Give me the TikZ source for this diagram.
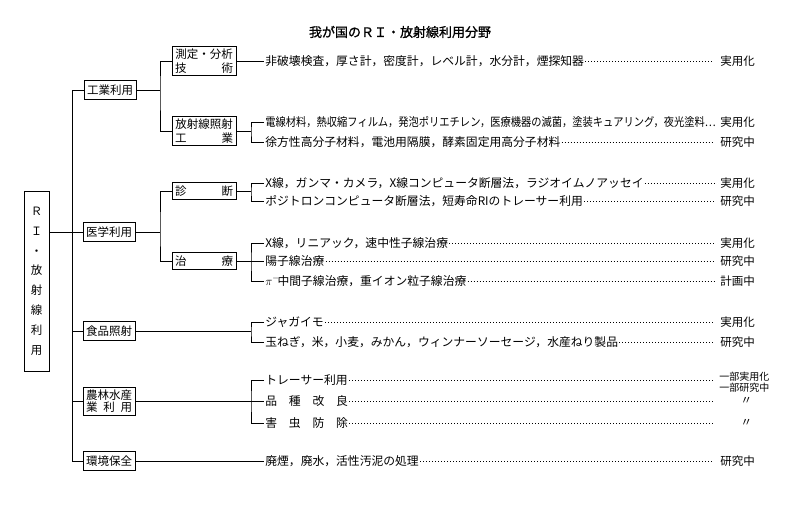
\documentclass[tikz,border=0pt]{standalone}
\usepackage{fontspec}
\setmainfont{Noto Sans CJK JP}
\newfontfamily\titlefont[FakeBold=1.2]{Noto Sans CJK JP}
\usepackage{graphicx}
\begin{document}
\begin{tikzpicture}[x=1pt,y=-1pt,line width=0.7pt,
    catbox/.style={draw,minimum width=52pt,minimum height=19pt,inner sep=1pt,align=center,font=\fontsize{11.5}{12}\selectfont},
    subbox/.style={draw,minimum width=64pt,minimum height=17pt,inner sep=2pt,align=center,font=\fontsize{11.5}{14}\selectfont},
    item/.style={anchor=west,inner sep=1pt,font=\fontsize{11.8}{13}\selectfont},
    stat/.style={anchor=west,inner sep=1pt,font=\fontsize{11.5}{13}\selectfont},
    ditto/.style={stat,minimum width=56pt},
    leader/.style={line width=1pt,dash pattern=on 1pt off 2pt,shorten >=5pt}]
    \useasboundingbox (0,0) rectangle (787,509);
    \node[font=\fontsize{13}{14}\selectfont] (title) at (400,32) {\titlefont 我が国のＲＩ・放射線利用分野};
    \node[draw,minimum width=25pt,minimum height=180pt,inner sep=0pt,align=center,
      font=\fontsize{11.5}{19.8}\selectfont] (ri) at (36.5,281) {Ｒ\\Ｉ\\・\\放\\射\\線\\利\\用};
    \node[catbox] (c1) at (110,90) {工業利用};
    \node[catbox] (c2) at (109,232) {医学利用};
    \node[catbox] (c3) at (109,331) {食品照射};
    \node[catbox,minimum height=28pt] (c4) at (109,401) {農林水産\\\makebox[46pt]{業\hfill 利\hfill 用}};
    \node[catbox] (c5) at (109,461) {環境保全};
    \coordinate (tk1) at (72,90);
    \coordinate (tk2) at (72,461);
    \draw (tk1) -- (tk2);
    \draw (tk1) -- (c1.west);
    \draw (ri.east |- c2.west) -- (c2.west);
    \foreach \c in {c3,c4,c5}
      \draw (\c.west -| tk1) -- (\c.west);
    \node[subbox] (s1) at (204,61) {\makebox[58pt]{測定・分析}\\\makebox[58pt]{技\hfill 術}};
    \node[subbox] (s2) at (204,131) {\makebox[58pt]{放射線照射}\\\makebox[58pt]{工\hfill 業}};
    \node[subbox] (s3) at (204,191) {\makebox[58pt]{診\hfill 断}};
    \node[subbox] (s4) at (204,261) {\makebox[58pt]{治\hfill 療}};
    \coordinate (j1) at (160,90);
    \coordinate (j2) at (160,232);
    \draw (c1.east) -- (j1);
    \draw (s1.west) -| (j1) |- (s2.west);
    \draw (c2.east) -- (j2);
    \draw (s3.west) -| (j2) |- (s4.west);
    \node[item] (r11) at (264,61) {非破壊検査，厚さ計，密度計，レベル計，水分計，煙探知器};
    \node[item] (r21) at (264,122) {\scalebox{0.87}[1]{電線材料，熱収縮フィルム，発泡ポリエチレン，医療機器の滅菌，塗装キュアリング，夜光塗料…}};
    \node[item] (r22) at (264,142) {徐方性高分子材料，電池用隔膜，酵素固定用高分子材料};
    \node[item] (r31) at (264,183) {X線，ガンマ・カメラ，X線コンピュータ断層法，ラジオイムノアッセイ};
    \node[item] (r32) at (264,201) {ポジトロンコンピュータ断層法，短寿命RIのトレーサー利用};
    \node[item] (r41) at (264,243) {X線，リニアック，速中性子線治療};
    \node[item] (r42) at (264,261) {陽子線治療};
    \node[item] (r43) at (264,281) {$\pi^{-}$\kern-2pt 中間子線治療，重イオン粒子線治療};
    \node[item] (r51) at (264,322) {ジャガイモ};
    \node[item] (r52) at (264,342) {玉ねぎ，米，小麦，みかん，ウィンナーソーセージ，水産ねり製品};
    \node[item] (r61) at (264,380) {トレーサー利用};
    \node[item] (r62) at (264,401) {品　種　改　良};
    \node[item] (r63) at (264,423) {害　虫　防　除};
    \node[item] (r71) at (264,461) {廃煙，廃水，活性汚泥の処理};
    \coordinate (k2) at (251,131);
    \coordinate (k3) at (251,191);
    \coordinate (k4) at (251,261);
    \coordinate (k5) at (251,331);
    \coordinate (k6) at (251,401);
    \draw (s1.east) -- (r11.west);
    \draw (s2.east) -- (k2);
    \draw (r21.west) -| (k2) |- (r22.west);
    \draw (s3.east) -- (k3);
    \draw (r31.west) -| (k3) |- (r32.west);
    \draw (s4.east) -- (r42.west);
    \draw (r41.west) -| (k4) |- (r43.west);
    \draw (c3.east) -- (k5);
    \draw (r51.west) -| (k5) |- (r52.west);
    \draw (c4.east) -- (r62.west);
    \draw (r61.west) -| (k6) |- (r63.west);
    \draw (c5.east) -- (r71.west);
    \node[stat] (l11) at (719,61) {実用化};
    \node[stat] (l21) at (719,122) {実用化};
    \node[stat] (l22) at (719,142) {研究中};
    \node[stat] (l31) at (719,183) {実用化};
    \node[stat] (l32) at (719,201) {研究中};
    \node[stat] (l41) at (719,243) {実用化};
    \node[stat] (l42) at (719,261) {研究中};
    \node[stat] (l43) at (719,281) {計画中};
    \node[stat] (l51) at (719,322) {実用化};
    \node[stat] (l52) at (719,342) {研究中};
    \node[stat,align=center,font=\fontsize{10}{10.5}\selectfont] (l61) at (718,382) {一部実用化\\一部研究中};
    \node[ditto] (l62) at (718,401) {〃};
    \node[ditto] (l63) at (718,423) {〃};
    \node[stat] (l71) at (719,461) {研究中};
    \foreach \r in {11,22,31,32,41,42,43,51,52,62,63,71}
      \draw[leader] (r\r.east) -- (l\r.west);
    \draw[leader] (r61.east) -- (r61.east -| l61.west);
\end{tikzpicture}
\end{document}
